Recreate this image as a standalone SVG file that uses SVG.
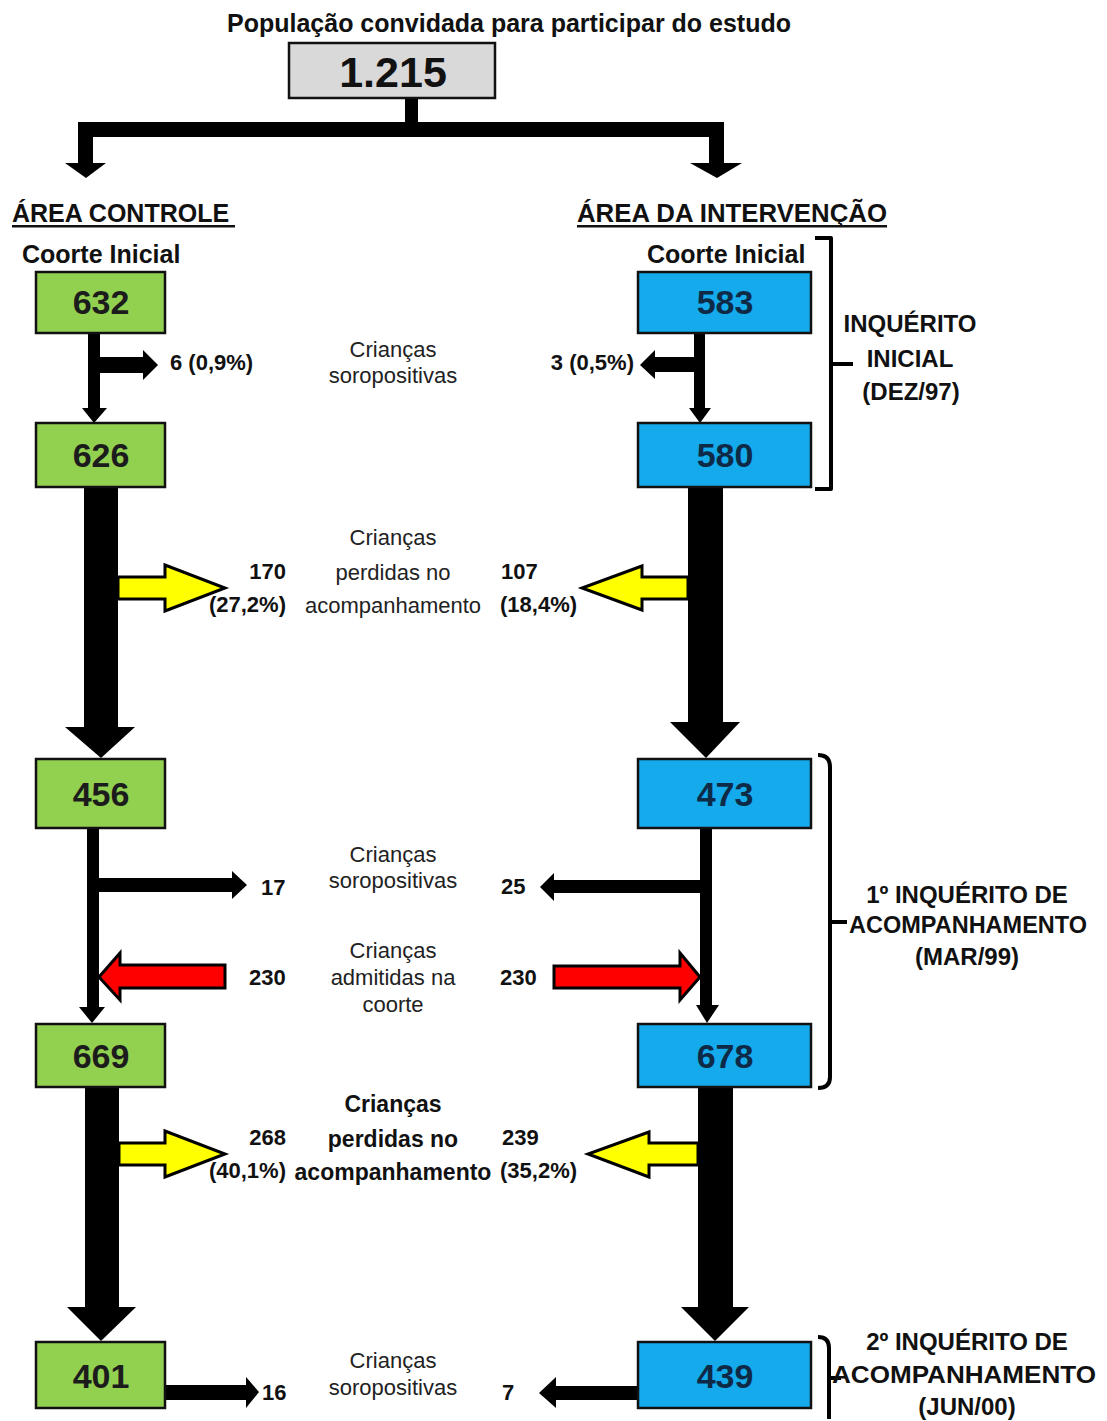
<svg xmlns="http://www.w3.org/2000/svg" width="1107" height="1421" viewBox="0 0 1107 1421">
<style>
text{font-family:"Liberation Sans",Arial,sans-serif;}
.ttl{font-size:25px;font-weight:bold;fill:#111;}
.hd{font-size:25px;font-weight:bold;fill:#111;}
.num{font-size:34px;font-weight:bold;text-anchor:middle;}
.g rect{fill:#92d050;stroke:#111;stroke-width:2.5;}
.g text{fill:#1c1c1c;}
.b rect{fill:#14aaeb;stroke:#111;stroke-width:2.5;}
.b text{fill:#0e2a47;}
.mid{font-size:22px;text-anchor:middle;fill:#222;}
.midb{font-size:23px;font-weight:bold;text-anchor:middle;fill:#111;}
.lab{font-size:22px;font-weight:bold;fill:#111;}
.end{text-anchor:end;}
.inq{font-size:24px;font-weight:bold;text-anchor:middle;fill:#111;}
.blk{fill:#000;}
.yel{fill:#ffff00;stroke:#000;stroke-width:3;stroke-linejoin:miter;}
.red{fill:#ff0000;stroke:#000;stroke-width:3;stroke-linejoin:miter;}
.brk{fill:none;stroke:#000;stroke-width:4;stroke-linejoin:round;}
</style>

<text class="ttl" x="509" y="32" text-anchor="middle">População convidada para participar do estudo</text>

<g id="node-total">
<rect x="289" y="43" width="206" height="55" fill="#d9d9d9" stroke="#111" stroke-width="2.5"/>
<text x="393" y="87" font-size="43" font-weight="bold" text-anchor="middle" fill="#111">1.215</text>
</g>

<g id="headings">
<text class="hd" x="12" y="222">ÁREA CONTROLE</text>
<rect x="12" y="225" width="223" height="2.5" fill="#111"/>
<text class="hd" x="577" y="222" textLength="310" lengthAdjust="spacingAndGlyphs">ÁREA DA INTERVENÇÃO</text>
<rect x="577" y="225" width="310" height="2.5" fill="#111"/>
<text class="hd" x="22" y="263">Coorte Inicial</text>
<text class="hd" x="647" y="263">Coorte Inicial</text>
</g>

<g id="connectors">
<!-- top split -->
<rect class="blk" x="405" y="99" width="13" height="38"/>
<rect class="blk" x="78" y="122" width="646" height="15"/>
<rect class="blk" x="78" y="122" width="15" height="42"/>
<polygon class="blk" points="65,163 106,163 86,178"/>
<rect class="blk" x="709" y="122" width="15" height="42"/>
<polygon class="blk" points="690,163 742,163 717,178"/>

<!-- 632 -> 626 -->
<rect class="blk" x="88" y="333" width="12" height="77"/>
<polygon class="blk" points="82,408 107,408 94,423"/>
<rect class="blk" x="99" y="357" width="45" height="16"/>
<polygon class="blk" points="143,350 143,380 158,365"/>

<!-- 583 -> 580 -->
<rect class="blk" x="694" y="333" width="11" height="77"/>
<polygon class="blk" points="689,408 711,408 700,423"/>
<rect class="blk" x="654" y="357" width="41" height="15"/>
<polygon class="blk" points="655,350 655,379 640,365"/>

<!-- 626 -> 456 -->
<rect class="blk" x="84" y="487" width="34" height="241"/>
<polygon class="blk" points="65,727 135,727 101,758"/>
<polygon class="yel" points="118,577 165,577 165,565 225,588 165,611 165,599 118,599"/>

<!-- 580 -> 473 -->
<rect class="blk" x="688" y="487" width="35" height="236"/>
<polygon class="blk" points="670,722 740,722 706,758"/>
<polygon class="yel" points="688,577 642,577 642,566 582,588 642,610 642,599 688,599"/>

<!-- 456 -> 669 -->
<rect class="blk" x="87" y="828" width="12" height="180"/>
<polygon class="blk" points="79,1007 105,1007 92,1023"/>
<rect class="blk" x="98" y="878" width="135" height="14"/>
<polygon class="blk" points="232,871 232,899 247,885"/>
<polygon class="red" points="225,965 120,965 120,953 99,977 120,1000 120,988 225,988"/>

<!-- 473 -> 678 -->
<rect class="blk" x="700" y="828" width="12" height="178"/>
<polygon class="blk" points="696,1005 719,1005 707,1023"/>
<rect class="blk" x="553" y="880" width="148" height="13"/>
<polygon class="blk" points="554,873 554,901 540,887"/>
<polygon class="red" points="554,966 680,966 680,953 700,977 680,1000 680,988 554,988"/>

<!-- 669 -> 401 -->
<rect class="blk" x="85" y="1087" width="34" height="221"/>
<polygon class="blk" points="67,1307 136,1307 101,1341"/>
<polygon class="yel" points="119,1143 165,1143 165,1131 225,1154 165,1177 165,1165 119,1165"/>

<!-- 678 -> 439 -->
<rect class="blk" x="698" y="1087" width="35" height="221"/>
<polygon class="blk" points="681,1307 749,1307 715,1341"/>
<polygon class="yel" points="698,1143 649,1143 649,1132 588,1154 649,1177 649,1165 698,1165"/>

<!-- bottom -->
<rect class="blk" x="165" y="1385" width="82" height="15"/>
<polygon class="blk" points="246,1377 246,1408 259,1392"/>
<rect class="blk" x="555" y="1386" width="84" height="14"/>
<polygon class="blk" points="556,1377 556,1408 539,1393"/>

<!-- brackets -->
<path class="brk" d="M815,238 H831 V489 H815 M831,364 H853"/>
<path class="brk" d="M818,755 Q830,755 830,767 V1077 Q830,1088 818,1088 M830,922 H847"/>
<path class="brk" d="M818,1337 Q829,1337 829,1348 V1419 M829,1378 H841"/>
</g>

<g id="node-632" class="g"><rect x="36" y="272" width="129" height="61"/><text class="num" x="101" y="314">632</text></g>
<g id="node-626" class="g"><rect x="36" y="423" width="129" height="64"/><text class="num" x="101" y="467">626</text></g>
<g id="node-456" class="g"><rect x="36" y="759" width="129" height="69"/><text class="num" x="101" y="806">456</text></g>
<g id="node-669" class="g"><rect x="36" y="1024" width="129" height="63"/><text class="num" x="101" y="1068">669</text></g>
<g id="node-401" class="g"><rect x="36" y="1342" width="129" height="66"/><text class="num" x="101" y="1388">401</text></g>

<g id="node-583" class="b"><rect x="638" y="272" width="173" height="61"/><text class="num" x="725" y="314">583</text></g>
<g id="node-580" class="b"><rect x="638" y="423" width="173" height="64"/><text class="num" x="725" y="467">580</text></g>
<g id="node-473" class="b"><rect x="638" y="759" width="173" height="69"/><text class="num" x="725" y="806">473</text></g>
<g id="node-678" class="b"><rect x="638" y="1024" width="173" height="63"/><text class="num" x="725" y="1068">678</text></g>
<g id="node-439" class="b"><rect x="638" y="1342" width="173" height="66"/><text class="num" x="725" y="1388">439</text></g>

<g id="labels">
<text class="mid" x="393" y="357">Crianças</text>
<text class="mid" x="393" y="383">soropositivas</text>
<text class="lab" x="170" y="370">6 (0,9%)</text>
<text class="lab end" x="634" y="370">3 (0,5%)</text>

<text class="mid" x="393" y="545">Crianças</text>
<text class="mid" x="393" y="580">perdidas no</text>
<text class="mid" x="393" y="613">acompanhamento</text>
<text class="lab end" x="286" y="579">170</text>
<text class="lab end" x="286" y="612">(27,2%)</text>
<text class="lab" x="501" y="579">107</text>
<text class="lab" x="500" y="612">(18,4%)</text>

<text class="mid" x="393" y="862">Crianças</text>
<text class="mid" x="393" y="888">soropositivas</text>
<text class="lab" x="261" y="895">17</text>
<text class="lab" x="501" y="894">25</text>

<text class="mid" x="393" y="958">Crianças</text>
<text class="mid" x="393" y="985">admitidas na</text>
<text class="mid" x="393" y="1012">coorte</text>
<text class="lab" x="249" y="985">230</text>
<text class="lab" x="500" y="985">230</text>

<text class="midb" x="393" y="1112">Crianças</text>
<text class="midb" x="393" y="1147">perdidas no</text>
<text class="midb" x="393" y="1180">acompanhamento</text>
<text class="lab end" x="286" y="1145">268</text>
<text class="lab end" x="286" y="1178">(40,1%)</text>
<text class="lab" x="502" y="1145">239</text>
<text class="lab" x="500" y="1178">(35,2%)</text>

<text class="mid" x="393" y="1368">Crianças</text>
<text class="mid" x="393" y="1395">soropositivas</text>
<text class="lab" x="262" y="1400">16</text>
<text class="lab" x="502" y="1400">7</text>

<text class="inq" x="910" y="332">INQUÉRITO</text>
<text class="inq" x="910" y="367">INICIAL</text>
<text class="inq" x="911" y="400">(DEZ/97)</text>

<text class="inq" x="967" y="903">1º INQUÉRITO DE</text>
<text class="inq" x="968" y="933" textLength="238" lengthAdjust="spacingAndGlyphs">ACOMPANHAMENTO</text>
<text class="inq" x="967" y="965">(MAR/99)</text>

<text class="inq" x="967" y="1350">2º INQUÉRITO DE</text>
<text class="inq" x="964" y="1383" textLength="264" lengthAdjust="spacingAndGlyphs">ACOMPANHAMENTO</text>
<text class="inq" x="967" y="1415">(JUN/00)</text>
</g>
</svg>
